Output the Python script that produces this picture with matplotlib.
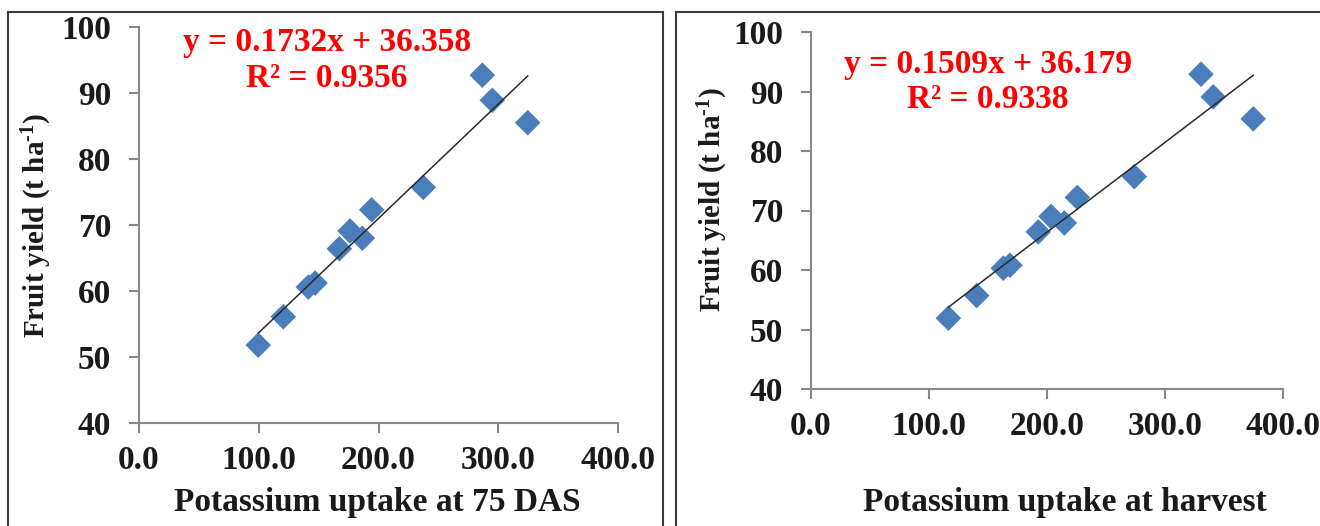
"""Fruit yield vs potassium uptake: two scatter panels with linear trendlines."""

import matplotlib.pyplot as plt
from matplotlib.patches import Rectangle

# Left panel: potassium uptake at 75 DAS
uptake_75das = [99.6, 120.5, 141.4, 147.0, 167.3, 176.2, 186.5, 194.3, 237.4, 286.7, 295.0, 324.6]
yield_75das = [51.8, 56.1, 60.6, 61.2, 66.4, 69.1, 68.0, 72.3, 75.7, 92.7, 88.9, 85.5]
fit_75das = (0.1732, 36.358)
eq_75das = ["y = 0.1732x + 36.358", "R² = 0.9356"]

# Right panel: potassium uptake at harvest
uptake_harvest = [116.4, 140.4, 163.0, 168.6, 192.6, 203.4, 214.7, 225.7, 274.0, 330.5, 340.9, 374.8]
yield_harvest = [51.9, 55.7, 60.3, 60.8, 66.4, 69.0, 67.9, 72.2, 75.7, 92.9, 89.1, 85.4]
fit_harvest = (0.1509, 36.179)
eq_harvest = ["y = 0.1509x + 36.179", "R² = 0.9338"]

x_ticks = [0, 100, 200, 300, 400]
x_tick_labels = ["0.0", "100.0", "200.0", "300.0", "400.0"]
y_ticks = [40, 50, 60, 70, 80, 90, 100]

plt.rcParams["font.family"] = ["Liberation Serif", "DejaVu Serif"]
plt.rcParams["font.weight"] = "bold"
plt.rcParams["mathtext.fontset"] = "custom"
plt.rcParams["mathtext.rm"] = "Liberation Serif:bold"
plt.rcParams["mathtext.it"] = "Liberation Serif:bold"
plt.rcParams["mathtext.bf"] = "Liberation Serif:bold"

W, H = 1320, 526
FS = 24  # horizontal text
FS_Y = 21  # rotated y label
fig = plt.figure(figsize=(W / 100, H / 100), dpi=100)


def fx(px):
    return px / W


def fy(py):
    return 1 - py / H


# panel frames
for x0, x1 in [(8, 663), (676, 1330)]:
    fig.patches.append(Rectangle((fx(x0), fy(540)), fx(x1 - x0), (540 - 12) / H,
                                 transform=fig.transFigure, fill=False,
                                 edgecolor="#3a3a3a", linewidth=1.5))


def draw_panel(box, xs, ys, fit, eq_lines, eq_pos, xlabel, xlabel_pos, ylabel_pos):
    left, top, right, bottom = box
    ax = fig.add_axes([fx(left), fy(bottom), fx(right - left), (bottom - top) / H])
    ax.scatter(xs, ys, marker="D", s=170, color="#4a7ebb", edgecolors="none", zorder=3)
    slope, icpt = fit
    lx = [min(xs), max(xs)]
    ax.plot(lx, [slope * v + icpt for v in lx], color="#2a2a2a", linewidth=1.1, zorder=4)

    ax.set_xlim(0, 400)
    ax.set_ylim(40, 100)
    ax.set_xticks(x_ticks)
    ax.set_xticklabels(x_tick_labels)
    ax.set_yticks(y_ticks)
    for side in ("top", "right"):
        ax.spines[side].set_visible(False)
    for side in ("left", "bottom"):
        ax.spines[side].set_color("#888888")
        ax.spines[side].set_linewidth(1.5)
    ax.tick_params(direction="out", length=7, width=1.5, color="#888888",
                   labelsize=FS, labelcolor="#1a1a1a")
    ax.tick_params(axis="x", pad=9)
    ax.tick_params(axis="y", pad=13)
    for lab in ax.get_xticklabels() + ax.get_yticklabels():
        lab.set_fontweight("bold")

    ax.text(eq_pos[0], eq_pos[1], eq_lines[0], transform=ax.transAxes, ha="center",
            va="center", color="#ff0000", fontsize=FS, fontweight="bold")
    ax.text(eq_pos[0], eq_pos[2], eq_lines[1], transform=ax.transAxes, ha="center",
            va="center", color="#ff0000", fontsize=FS, fontweight="bold")

    fig.text(fx(xlabel_pos[0]), fy(xlabel_pos[1]), xlabel, ha="center", va="center",
             fontsize=FS, fontweight="bold", color="#1a1a1a")
    fig.text(fx(ylabel_pos[0]), fy(ylabel_pos[1]), r"Fruit yield (t ha$^{\text{-1}}$)",
             ha="center", va="center", rotation=90, fontsize=FS_Y, fontweight="bold",
             color="#1a1a1a")
    return ax


draw_panel((139, 27, 618, 423), uptake_75das, yield_75das, fit_75das, eq_75das,
           (0.392, 0.96, 0.871), "Potassium uptake at 75 DAS", (377, 502), (37, 225))
draw_panel((811, 32, 1283, 389), uptake_harvest, yield_harvest, fit_harvest, eq_harvest,
           (0.375, 0.91, 0.81), "Potassium uptake at harvest", (1065, 502), (713, 199))

fig.savefig("out.png", dpi=100)
